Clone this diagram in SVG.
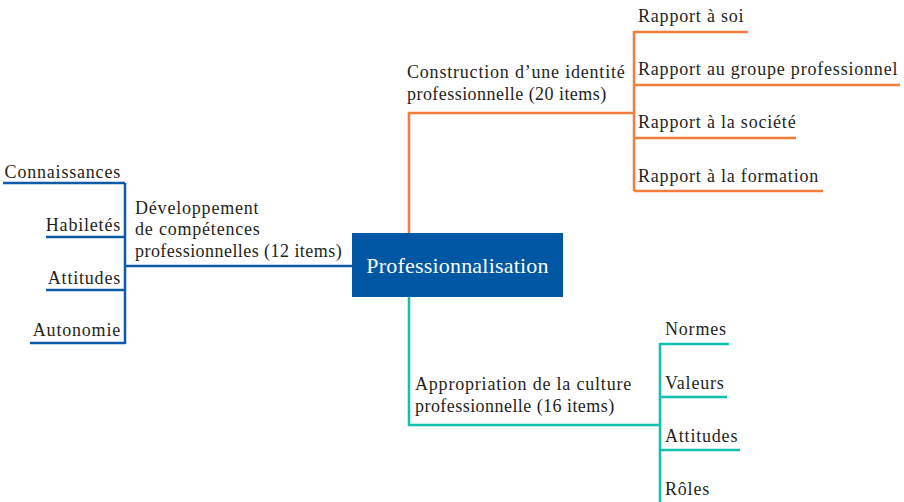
<svg xmlns="http://www.w3.org/2000/svg" width="904" height="502" viewBox="0 0 904 502">
<style>
text{font-family:'Liberation Serif','Tinos','DejaVu Serif',serif;font-size:18px;letter-spacing:0.8px;fill:#231f20}
.n{letter-spacing:0.45px}
.b{stroke:#0d5aa7;stroke-width:2.5;fill:none}
.o{stroke:#f47c3c;stroke-width:2.5;fill:none}
.t{stroke:#13bfad;stroke-width:2.5;fill:none}
.r{text-anchor:end}
</style>
<rect width="904" height="502" fill="#fff"/>
<g id="connectors">
<path class="b" d="M352 266H125M125 183V344M3 183H125M46 237H125M46 290H125M30 343H125"/>
<path class="o" d="M409 233V113H634M634 31V191M634 32H748M634 85H900M634 138H796M634 191H823"/>
<path class="t" d="M409 297V425H660M660 343V502M660 344H729M660 397H727M660 450H740"/>
</g>
<g id="center">
<rect x="352" y="233" width="211" height="64" fill="#0058a5"/>
<text x="457.5" y="273" text-anchor="middle" style="fill:#fff;font-size:22px;letter-spacing:0.2px">Professionnalisation</text>
</g>
<g id="dev">
<text x="135" y="214">Développement</text>
<text x="135" y="235">de compétences</text>
<text class="n" x="135" y="257">professionnelles (12 items)</text>
</g>
<g id="connaissances"><text class="r" x="121" y="178">Connaissances</text></g>
<g id="habiletes"><text class="r" x="121" y="231">Habiletés</text></g>
<g id="attitudes1"><text class="r" x="121" y="284">Attitudes</text></g>
<g id="autonomie"><text class="r" x="121" y="336">Autonomie</text></g>
<g id="construction">
<text x="407" y="78">Construction d’une identité</text>
<text class="n" x="407" y="100">professionnelle (20 items)</text>
</g>
<g id="soi"><text x="638" y="22">Rapport à soi</text></g>
<g id="groupe"><text x="638" y="75">Rapport au groupe professionnel</text></g>
<g id="societe"><text x="638" y="128">Rapport à la société</text></g>
<g id="formation"><text x="638" y="182">Rapport à la formation</text></g>
<g id="appropriation">
<text x="415" y="390">Appropriation de la culture</text>
<text class="n" x="415" y="412">professionnelle (16 items)</text>
</g>
<g id="normes"><text x="665" y="335">Normes</text></g>
<g id="valeurs"><text x="665" y="389">Valeurs</text></g>
<g id="attitudes2"><text x="665" y="442">Attitudes</text></g>
<g id="roles"><text x="665" y="495">Rôles</text></g>
</svg>
